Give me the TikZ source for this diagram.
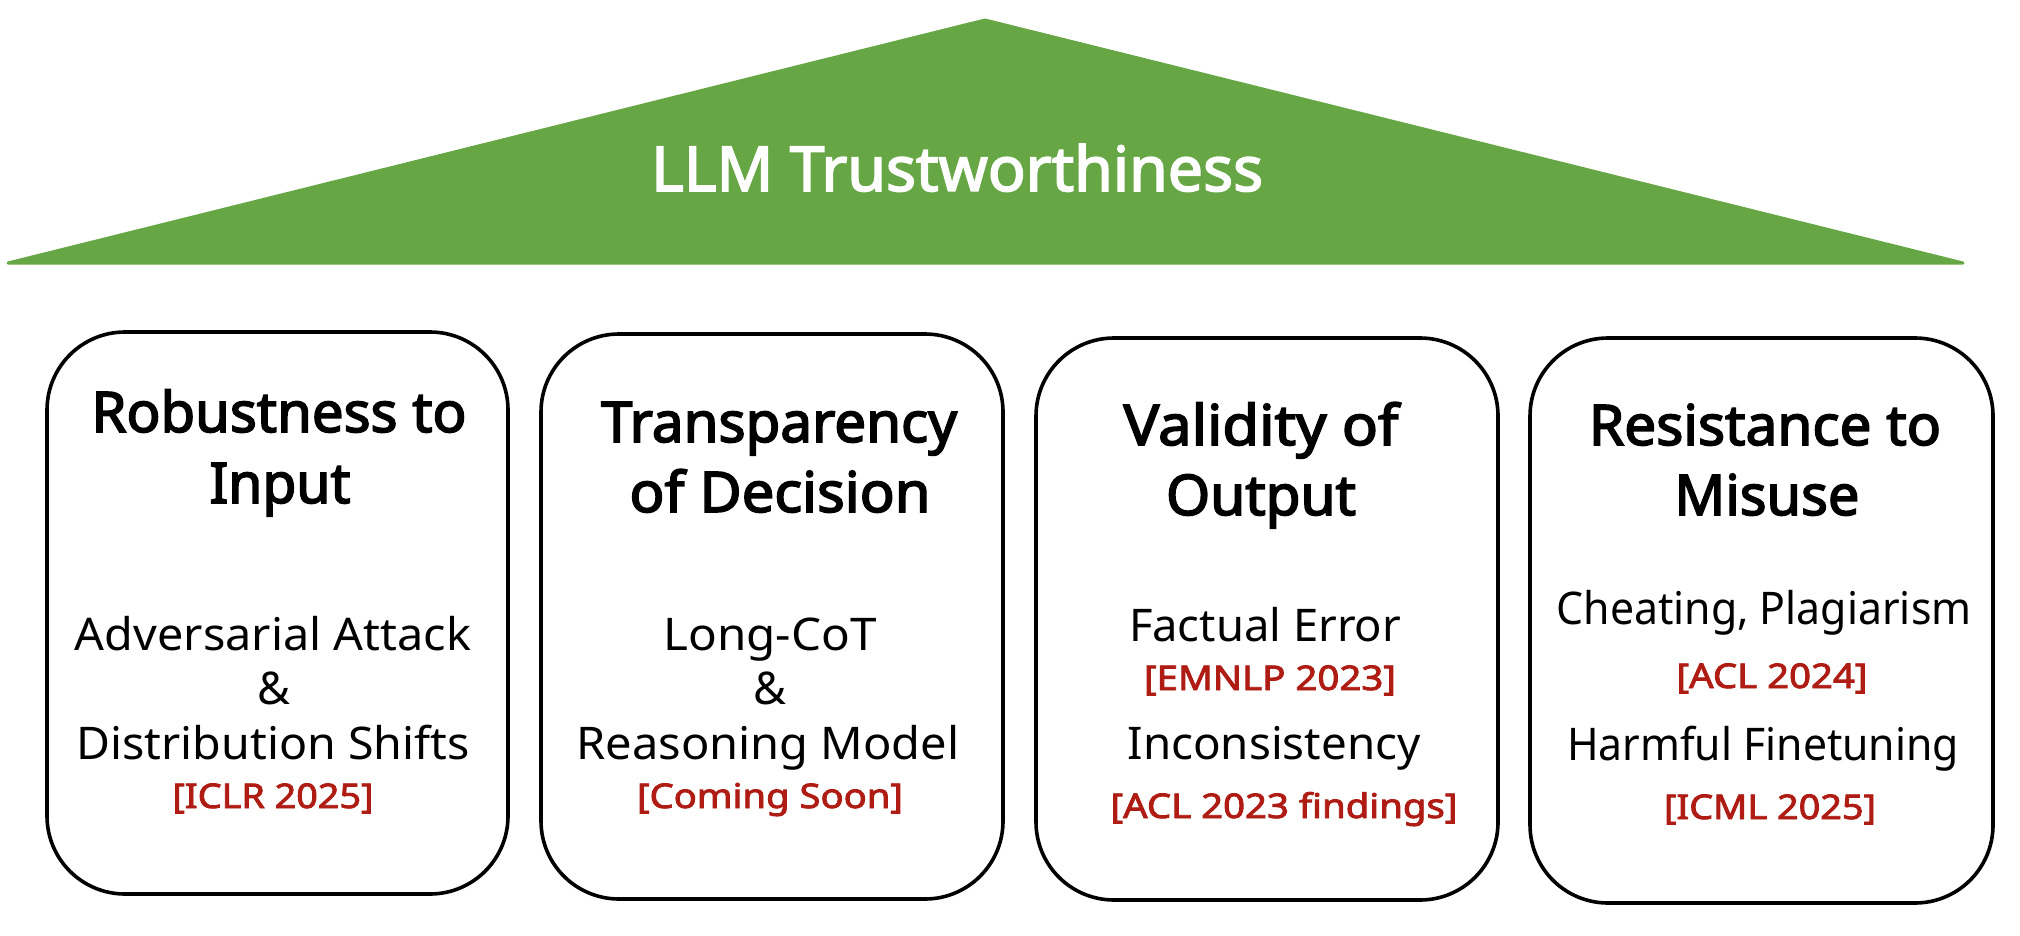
\documentclass[tikz,border=0pt]{standalone}
\usepackage{fontspec}
\usepackage{graphicx}
\setmainfont{Noto Sans}
\newcommand{\wfit}[2]{\resizebox{#1pt}{\height}{#2}}
\newcommand{\hvy}[3]{\resizebox{#2pt}{\height}{\special{pdf:code 2 Tr #1 w}#3\special{pdf:code 0 Tr 1 w}}}
\definecolor{roofgreen}{HTML}{66A644}
\definecolor{venuered}{HTML}{AE1C14}
\tikzset{
  x=1pt,y=-1pt,
  panel/.style={draw=black,line width=3.6pt,fill=white,rounded corners=78pt},
  roof/.style={fill=roofgreen,draw=roofgreen,line width=3pt,line join=round},
  head/.style={anchor=base,inner sep=0pt,font=\fontsize{56}{60}\selectfont,text=black},
  body/.style={anchor=base,inner sep=0pt,font=\fontsize{45}{50}\selectfont,text=black},
  venue/.style={anchor=base,inner sep=0pt,font=\fontsize{34}{40}\selectfont,text=venuered},
  title/.style={anchor=base,inner sep=0pt,font=\fontsize{62}{70}\selectfont,text=white}
}
\begin{document}
\begin{tikzpicture}
\useasboundingbox (0,0) rectangle (2020,936);
\fill[white] (0,0) rectangle (2020,936);
\filldraw[roof] (985,20) -- (1963,263) -- (8,263) -- cycle;
\draw[panel] (47,332) rectangle (508,894);
\draw[panel] (541,334) rectangle (1003,899);
\draw[panel] (1036,338) rectangle (1498,900);
\draw[panel] (1530,338) rectangle (1993,903);
\node[body] (a3) at (273,650) {\wfit{396}{Adversarial Attack}};
\node[body] (a4) at (274,704) {\&};
\node[body] (a5) at (273,759) {\wfit{393}{Distribution Shifts}};
\node[body] (b3) at (770,650) {\wfit{213}{Long-CoT}};
\node[body] (b4) at (770,704) {\&};
\node[body] (b5) at (768,759) {\wfit{383}{Reasoning Model}};
\node[body] (c3) at (1265,641) {\wfit{272}{Factual Error}};
\node[body] (c5) at (1274,759) {\wfit{293}{Inconsistency}};
\node[body] (d3) at (1764,624) {\wfit{415}{Cheating, Plagiarism}};
\node[body] (d5) at (1763,760) {\wfit{392}{Harmful Finetuning}};
\node[title] (t) at (957,191) {\hvy{1.6}{612}{LLM Trustworthiness}};
\node[head] (a1) at (279,432) {\hvy{1.6}{375}{Robustness to}};
\node[head] (a2) at (280,503) {\hvy{1.6}{141}{Input}};
\node[venue] (a6) at (273,808) {\hvy{0.8}{201}{[ICLR 2025]}};
\node[head] (b1) at (779,442) {\hvy{1.6}{356}{Transparency}};
\node[head] (b2) at (780,512) {\hvy{1.6}{301}{of Decision}};
\node[venue] (b6) at (770,808) {\hvy{0.8}{266}{[Coming Soon]}};
\node[head] (c1) at (1261,445) {\hvy{1.6}{275}{Validity of}};
\node[head] (c2) at (1261,515) {\hvy{1.6}{190}{Output}};
\node[venue] (c4) at (1270,690) {\hvy{0.8}{252}{[EMNLP 2023]}};
\node[venue] (c6) at (1284,818) {\hvy{0.8}{347}{[ACL 2023 findings]}};
\node[head] (d1) at (1765,445) {\hvy{1.6}{352}{Resistance to}};
\node[head] (d2) at (1767,515) {\hvy{1.6}{185}{Misuse}};
\node[venue] (d4) at (1772,688) {\hvy{0.8}{191}{[ACL 2024]}};
\node[venue] (d6) at (1770,819) {\hvy{0.8}{212}{[ICML 2025]}};
\end{tikzpicture}
\end{document}
